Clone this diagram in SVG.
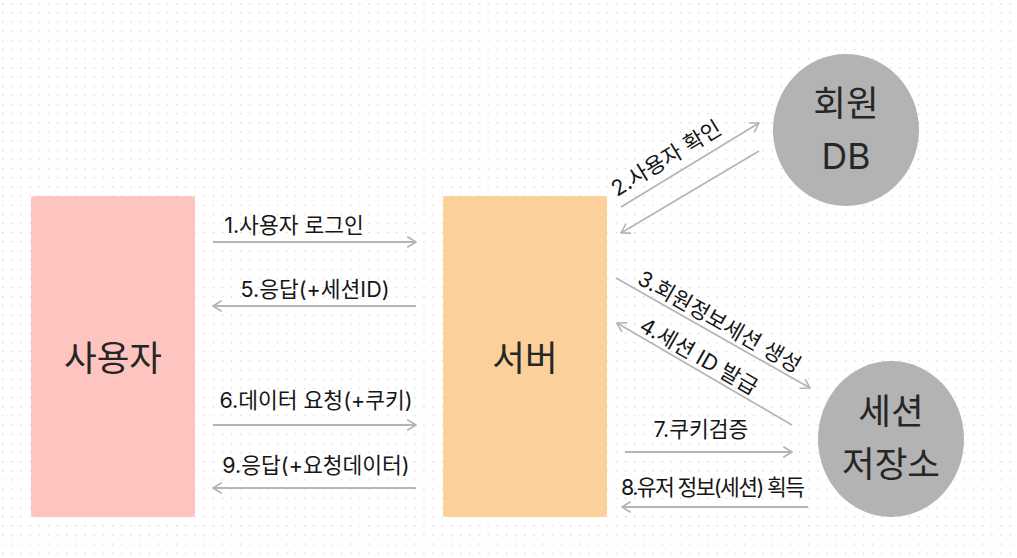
<svg xmlns="http://www.w3.org/2000/svg" width="1017" height="558" viewBox="0 0 1017 558">
  <defs>
    <pattern id="dots" x="2" y="3" width="9.16" height="9.16" patternUnits="userSpaceOnUse">
      <rect x="0" y="0" width="1.3" height="1.3" fill="#d4d4d4"/>
    </pattern>
    <marker id="arr" viewBox="0 0 10 12" refX="9.2" refY="6" markerWidth="10" markerHeight="12" markerUnits="userSpaceOnUse" orient="auto">
      <path d="M1,1 L9.2,6 L1,11" fill="none" stroke="#b3b3b3" stroke-width="1.6" stroke-linecap="round" stroke-linejoin="round"/>
    </marker>
    <style>
      .lbl { font-family: Inter, "Noto Sans CJK KR", sans-serif; font-size: 21.5px; fill: #161616; }
      .big { font-family: Inter, "Noto Sans CJK KR", sans-serif; font-size: 35.5px; fill: #262626; text-anchor: middle; }
      .ln { stroke: #b5b5b5; stroke-width: 1.8; fill: none; marker-end: url(#arr); }
    </style>
  </defs>
  <rect x="0" y="0" width="1017" height="558" fill="#ffffff"/>
  <rect x="0" y="0" width="1017" height="558" fill="url(#dots)"/>

  <g id="user">
    <rect x="31" y="196" width="164" height="321" rx="3" fill="#fec5c0"/>
    <text class="big" x="113" y="371">사용자</text>
  </g>
  <g id="server">
    <rect x="443" y="196" width="164" height="321" rx="3" fill="#fbd09a"/>
    <text class="big" x="525" y="371">서버</text>
  </g>
  <g id="member-db">
    <ellipse cx="846" cy="130" rx="73" ry="76" fill="#b3b3b3"/>
    <text class="big" x="846" y="116">회원</text>
    <text class="big" x="846" y="169">DB</text>
  </g>
  <g id="session-store">
    <ellipse cx="891" cy="439" rx="73" ry="78" fill="#b3b3b3"/>
    <text class="big" x="891" y="424">세션</text>
    <text class="big" x="891" y="477">저장소</text>
  </g>

  <g id="connectors">
    <line class="ln" x1="213" y1="242" x2="416" y2="242"/>
    <line class="ln" x1="416" y1="306" x2="213" y2="306"/>
    <line class="ln" x1="213" y1="425" x2="416" y2="425"/>
    <line class="ln" x1="416" y1="488" x2="213" y2="488"/>
    <line class="ln" x1="621" y1="207" x2="759" y2="123"/>
    <line class="ln" x1="759" y1="151" x2="621" y2="233"/>
    <line class="ln" x1="616" y1="278" x2="810" y2="388"/>
    <line class="ln" x1="792" y1="425" x2="617" y2="323"/>
    <line class="ln" x1="625" y1="452" x2="792" y2="452"/>
    <line class="ln" x1="808" y1="507" x2="622" y2="507"/>

    <text class="lbl" x="294" y="233" text-anchor="middle">1.사용자 로그인</text>
    <text class="lbl" x="315" y="297" text-anchor="middle">5.응답(+세션ID)</text>
    <text class="lbl" x="316" y="408" text-anchor="middle">6.데이터 요청(+쿠키)</text>
    <text class="lbl" x="316" y="473" text-anchor="middle">9.응답(+요청데이터)</text>
    <text class="lbl" x="701" y="437" text-anchor="middle">7.쿠키검증</text>
    <text class="lbl" x="621" y="495" textLength="184" lengthAdjust="spacing">8.유저 정보(세션) 획득</text>
    <text class="lbl" transform="translate(617,197) rotate(-31.3)">2.사용자 확인</text>
    <text class="lbl" transform="translate(636,283) rotate(29.6)">3.회원정보세션 생성</text>
    <text class="lbl" transform="translate(638,330) rotate(29.8)">4.세션 ID 발급</text>
  </g>
</svg>
